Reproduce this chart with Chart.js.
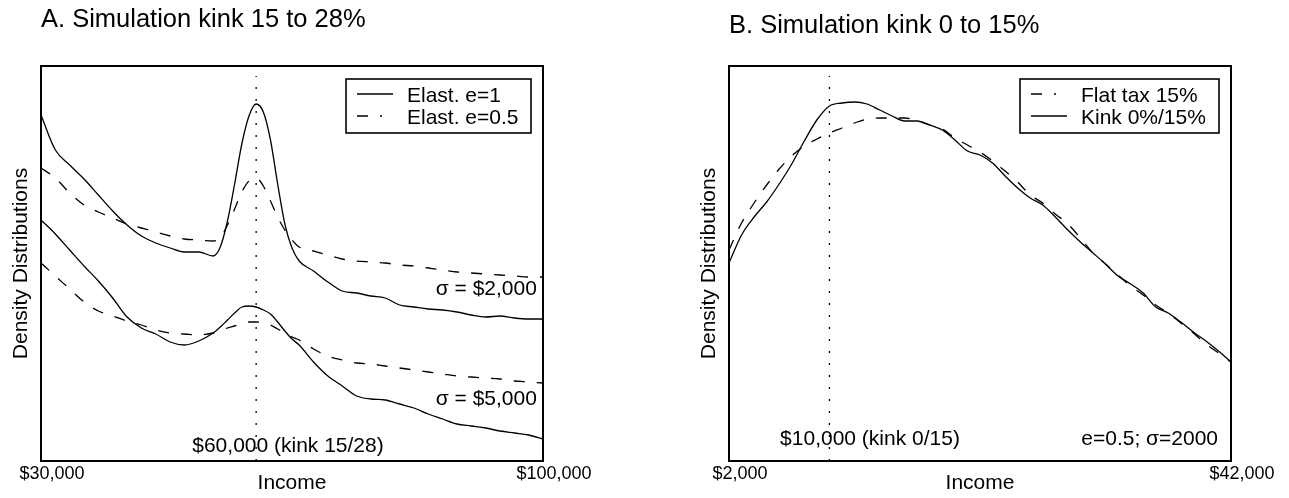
<!DOCTYPE html>
<html>
<head>
<meta charset="utf-8">
<script src="https://cdn.jsdelivr.net/npm/chart.js@4.4.1/dist/chart.umd.min.js"></script>
<style>
  html, body { margin: 0; padding: 0; background: #fff; }
  #wrap { position: relative; width: 1289px; height: 498px; }
  canvas { position: absolute; top: 0; }
</style>
</head>
<body>
<div id="wrap">
  <canvas id="chartA" width="644" height="498" style="left:0"></canvas>
  <canvas id="chartB" width="601" height="498" style="left:688px"></canvas>
</div>
<script>
const FONT = '"Liberation Sans", Arial, Helvetica, sans-serif';

// ---- Panel A: kink 15 to 28% ----
const titleA = 'A. Simulation kink 15 to 28%';
const incomeA = [30000, 32000, 34000, 36000, 38000, 40000, 42000, 44000, 46000, 48000, 50000, 52000, 54000,
  55000, 56000, 57000, 58000, 59000, 60000, 61000, 62000, 63000, 64000, 65000, 66000,
  68000, 70000, 72000, 74000, 76000, 78000, 80000, 82000, 84000, 86000, 88000, 90000, 92000, 94000, 96000, 98000, 100000];
const e1Sigma2000 = [346, 311, 296, 282, 266, 250, 236, 225, 218, 213, 209, 209, 205,
  214, 240, 277, 317, 345, 357, 349, 321, 277, 237, 213, 200,
  190, 179, 170, 168, 165, 163, 156, 154, 152, 151, 149, 146, 144, 145, 143, 142, 142];
const e05Sigma2000 = [293, 283, 268, 256, 249, 243, 237, 233, 229, 225, 222, 221, 220,
  223, 236, 252, 269, 280, 283, 275, 260, 244, 231, 221, 214,
  210, 206, 202, 200, 199, 198, 196, 195, 193, 191, 189, 188, 187, 186, 185, 184, 184];
const e1Sigma5000 = [241, 227, 211, 195, 180, 163, 144, 133, 127, 119, 116, 120, 128,
  134, 141, 148, 154, 155, 154, 151, 147, 139, 130, 122, 116,
  99, 85, 75, 65, 62, 61, 57, 53, 47, 42, 37, 35, 33, 30, 28, 26, 22];
const e05Sigma5000 = [198, 185, 172, 159, 150, 145, 140, 136, 131, 128, 127, 126, 128,
  130, 133, 135, 137, 139, 139, 138, 136, 132, 128, 124, 121,
  112, 105, 101, 98, 97, 95, 93, 91, 89, 87, 85, 84, 83, 82, 80, 79, 78];
const kinkA = 60000;
const ticksA = [30000, 100000];
const legendA = ['Elast. e=1', 'Elast. e=0.5'];
const notesA = [
  { text: 'σ = $2,000', x: 99150, y: 166, align: 'right' },
  { text: 'σ = $5,000', x: 99150, y: 56, align: 'right' },
  { text: '$60,000 (kink 15/28)', x: 64440, y: 9, align: 'center' }
];

// ---- Panel B: kink 0 to 15% ----
const titleB = 'B. Simulation kink 0 to 15%';
const incomeB = [2000, 3000, 4000, 5000, 6000, 7000, 8000, 9000, 10000, 11000, 12000, 13000, 14000, 15000,
  16000, 17000, 18000, 19000, 20000, 21000, 22000, 23000, 24000, 25000, 26000, 27000, 28000,
  29000, 30000, 31000, 32000, 33000, 34000, 35000, 36000, 37000, 38000, 39000, 40000, 41000, 42000];
const flatTax15 = [211, 238, 258, 276, 292, 305, 315, 322, 328, 333, 338, 342, 343, 343,
  343, 340, 336, 332, 323, 316, 309, 300, 290, 279, 266, 258, 247,
  237, 223, 208, 197, 186, 175, 166, 156, 148, 138, 128, 117, 108, 99];
const kink0to15 = [198, 226, 244, 259, 277, 297, 320, 341, 355, 358, 359, 357, 351, 345,
  340, 340, 336, 331, 321, 310, 306, 298, 285, 273, 263, 256, 244,
  231, 219, 208, 197, 185, 177, 168, 154, 148, 139, 129, 120, 110, 99];
const kinkB = 10000;
const ticksB = [2000, 42000];
const legendB = ['Flat tax 15%', 'Kink 0%/15%'];
const notesB = [
  { text: '$10,000 (kink 0/15)', x: 13235, y: 16, align: 'center' },
  { text: 'e=0.5; σ=2000', x: 40965, y: 16, align: 'right' }
];

const Y_MAX = 395;
const DASH = [11, 12];

function curve(label, xs, ys, dashed) {
  return {
    label: label,
    data: xs.map((x, i) => ({ x: x, y: ys[i] })),
    borderColor: '#000',
    borderWidth: 1.3,
    borderDash: dashed ? DASH : [],
    pointRadius: 0,
    cubicInterpolationMode: 'monotone',
    fill: false
  };
}

function kinkLine(xv) {
  return {
    label: 'kink',
    data: [{ x: xv, y: 0 }, { x: xv, y: Y_MAX - 10 }],
    borderColor: '#000',
    borderWidth: 1.3,
    borderDash: [2, 10],
    pointRadius: 0,
    fill: false
  };
}

const frame = {
  id: 'frame',
  afterDraw(chart) {
    const { ctx, chartArea: a } = chart;
    ctx.save();
    ctx.lineWidth = 2;
    ctx.strokeStyle = '#000';
    ctx.setLineDash([]);
    ctx.strokeRect(a.left, a.top, a.right - a.left, a.bottom - a.top);
    ctx.restore();
  }
};

function notesPlugin(notes) {
  return {
    id: 'notes',
    afterDatasetsDraw(chart) {
      const { ctx, scales: { x, y } } = chart;
      ctx.save();
      ctx.font = '21px ' + FONT;
      ctx.fillStyle = '#000';
      ctx.textBaseline = 'alphabetic';
      notes.forEach(n => {
        ctx.textAlign = n.align;
        ctx.fillText(n.text, x.getPixelForValue(n.x), y.getPixelForValue(n.y));
      });
      ctx.restore();
    }
  };
}

function legendPlugin(labels, dsIdx, box) {
  return {
    id: 'boxLegend',
    afterDatasetsDraw(chart) {
      const { ctx, chartArea: a } = chart;
      const left = a.right - box.fromRight;
      const top = a.top + 13;
      ctx.save();
      ctx.fillStyle = '#fff';
      ctx.fillRect(left, top, box.width, 54);
      ctx.lineWidth = 1.6;
      ctx.strokeStyle = '#000';
      ctx.setLineDash([]);
      ctx.strokeRect(left, top, box.width, 54);
      ctx.font = '21px ' + FONT;
      ctx.fillStyle = '#000';
      ctx.textAlign = 'left';
      ctx.textBaseline = 'alphabetic';
      labels.forEach((lab, i) => {
        const ds = chart.data.datasets[dsIdx[i]];
        const base = top + 23 + i * 22;
        const dashed = ds.borderDash.length > 0;
        ctx.setLineDash(ds.borderDash);
        ctx.lineWidth = ds.borderWidth;
        ctx.beginPath();
        ctx.moveTo(left + 11, base - 8);
        ctx.lineTo(left + 11 + (dashed ? 25 : 36), base - 8);
        ctx.stroke();
        ctx.setLineDash([]);
        ctx.fillText(lab, left + 61, base);
      });
      ctx.restore();
    }
  };
}

function makeOptions(title, titlePad, xmin, xmax, ticks, padRight) {
  return {
    responsive: false,
    animation: false,
    devicePixelRatio: 1,
    layout: { padding: { left: 0, right: padRight, top: 0, bottom: 0 } },
    plugins: {
      legend: { display: false },
      tooltip: { enabled: false },
      title: {
        display: true, text: title, align: 'start', fullSize: false, color: '#000',
        font: { family: FONT, size: 25.5, weight: 'normal' },
        padding: titlePad
      }
    },
    scales: {
      x: {
        type: 'linear', min: xmin, max: xmax,
        afterBuildTicks: s => { s.ticks = ticks.map(v => ({ value: v })); },
        afterFit: s => { s.height = 37; },
        grid: { display: false, drawTicks: false },
        border: { display: false },
        ticks: {
          font: { family: FONT, size: 18 }, color: '#000', padding: 2, labelOffset: 11,
          maxRotation: 0, autoSkip: false,
          callback: v => '$' + Number(v).toLocaleString('en-US')
        },
        title: {
          display: true, text: 'Income', color: '#000',
          font: { family: FONT, size: 21 }, padding: { top: 0, bottom: 2 }
        }
      },
      y: {
        type: 'linear', min: 0, max: Y_MAX,
        afterFit: s => { s.width = 41; },
        grid: { display: false, drawTicks: false },
        border: { display: false },
        ticks: { display: false },
        title: {
          display: true, text: 'Density Distributions', color: '#000',
          font: { family: FONT, size: 21 }, padding: { top: 9, bottom: 0 }
        }
      }
    }
  };
}

new Chart(document.getElementById('chartA'), {
  type: 'line',
  data: {
    datasets: [
      curve('Elast. e=1, σ=$2,000', incomeA, e1Sigma2000, false),
      curve('Elast. e=0.5, σ=$2,000', incomeA, e05Sigma2000, true),
      curve('Elast. e=1, σ=$5,000', incomeA, e1Sigma5000, false),
      curve('Elast. e=0.5, σ=$5,000', incomeA, e05Sigma5000, true),
      kinkLine(kinkA)
    ]
  },
  options: makeOptions(titleA, { top: 5, bottom: 30.4 }, 30000, 100000, ticksA, 101),
  plugins: [frame, notesPlugin(notesA), legendPlugin(legendA, [0, 1], { fromRight: 197, width: 185 })]
});

new Chart(document.getElementById('chartB'), {
  type: 'line',
  data: {
    datasets: [
      curve('Flat tax 15%', incomeB, flatTax15, true),
      curve('Kink 0%/15%', incomeB, kink0to15, false),
      kinkLine(kinkB)
    ]
  },
  options: makeOptions(titleB, { top: 10.7, bottom: 24.7 }, 2000, 42000, ticksB, 58),
  plugins: [frame, notesPlugin(notesB), legendPlugin(legendB, [0, 1], { fromRight: 211, width: 199 })]
});
</script>
</body>
</html>
